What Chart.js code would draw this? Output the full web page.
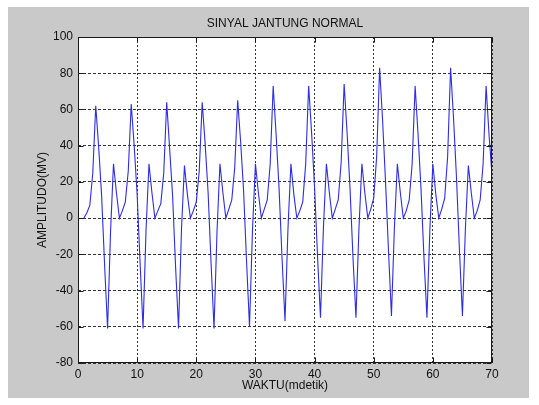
<!DOCTYPE html>
<html>
<head>
<meta charset="utf-8">
<script src="https://cdn.jsdelivr.net/npm/chart.js@4/dist/chart.umd.min.js"></script>
<style>
html, body { margin: 0; padding: 0; background: #fff; }
#wrap { width: 539px; height: 405px; }
</style>
</head>
<body>
<div id="wrap"><canvas id="ekg"></canvas></div>
<script>
'use strict';

// DATA
// =====
var judul = 'SINYAL JANTUNG NORMAL';
var labelX = 'WAKTU(mdetik)';
var labelY = 'AMPLITUDO(MV)';
var tickX = [0, 10, 20, 30, 40, 50, 60, 70];
var tickY = [-80, -60, -40, -20, 0, 20, 40, 60, 80, 100];
var waktuAwal = 1;   // sampel pertama (mdetik)
var langkah = 0.5;   // jarak antar sampel (mdetik)
var amplitudo = [
    0, 3, 7, 25, 62, 39, 12, -26, -61, -8, 30, 14,
    0, 4, 9, 26, 63, 40, 13, -25, -61, -7, 30, 14,
    0, 4, 8, 25, 64, 38, 12, -27, -61, -6, 29, 13,
    0, 4, 9, 26, 64, 41, 14, -25, -61, -8, 30, 14,
    0, 5, 10, 28, 65, 42, 15, -24, -60, -7, 30, 14,
    0, 5, 10, 30, 73, 46, 16, -22, -57, -6, 30, 13,
    0, 4, 9, 30, 73, 47, 17, -21, -55, -5, 30, 14,
    0, 5, 10, 31, 74, 47, 16, -22, -55, -6, 30, 14,
    0, 5, 11, 34, 83, 54, 20, -18, -54, -5, 30, 14,
    0, 4, 10, 30, 73, 46, 16, -22, -55, -6, 30, 13,
    0, 5, 11, 34, 83, 55, 22, -18, -54, -6, 29, 14,
    0, 4, 10, 30, 73, 46, 24
];

var titik = amplitudo.map(function (v, i) {
    return { x: waktuAwal + i * langkah, y: v };
});

var huruf = '"Liberation Sans", Arial, sans-serif';

// gray figure, white axes, box and inward ticks (matlab look)
var bingkai = {
    id: 'bingkai',
    beforeDraw: function (chart) {
        var ctx = chart.ctx, a = chart.chartArea;
        ctx.save();
        ctx.fillStyle = '#c9c9c9';
        ctx.fillRect(8, 7, 521, 391);
        ctx.fillStyle = '#fff';
        ctx.fillRect(a.left, a.top, a.right - a.left, a.bottom - a.top);
        ctx.restore();
    },
    afterDraw: function (chart) {
        var ctx = chart.ctx, a = chart.chartArea;
        var sx = chart.scales.x, sy = chart.scales.y;
        var L = Math.round(a.left) + 0.5, R = Math.round(a.right) - 0.5;
        var T = Math.round(a.top) + 0.5, B = Math.round(a.bottom) - 0.5;
        ctx.save();
        ctx.strokeStyle = '#1a1a1a';
        ctx.lineWidth = 1;
        ctx.strokeRect(L, T, R - L, B - T);
        ctx.beginPath();
        sx.ticks.forEach(function (t) {
            var p = Math.round(sx.getPixelForValue(t.value)) + 0.5;
            ctx.moveTo(p, B); ctx.lineTo(p, B - 5);
            ctx.moveTo(p, T); ctx.lineTo(p, T + 5);
        });
        sy.ticks.forEach(function (t) {
            var p = Math.round(sy.getPixelForValue(t.value)) + 0.5;
            ctx.moveTo(L, p); ctx.lineTo(L + 5, p);
            ctx.moveTo(R, p); ctx.lineTo(R - 5, p);
        });
        ctx.stroke();
        ctx.restore();
    }
};

var ctx = document.getElementById('ekg');
var chart = new Chart(ctx, {
    type: 'line',
    data: {
        datasets: [{
            data: titik,
            borderColor: 'rgb(45,45,225)',
            borderWidth: 1.1,
            pointRadius: 0,
            tension: 0,
            fill: false
        }]
    },
    options: {
        responsive: true,
        maintainAspectRatio: false,
        animation: false,
        layout: { padding: { left: 0, right: 47, top: 0, bottom: 0 } },
        plugins: {
            legend: { display: false },
            tooltip: { enabled: false },
            title: {
                display: true,
                fullSize: false,
                text: judul,
                color: '#111',
                font: { family: huruf, size: 12, weight: 'normal' },
                padding: { top: 16, bottom: 6.6 }
            }
        },
        scales: {
            x: {
                type: 'linear',
                min: tickX[0],
                max: tickX[tickX.length - 1],
                afterFit: function (s) { s.height = 42; },
                ticks: {
                    stepSize: tickX[1] - tickX[0],
                    color: '#111',
                    padding: 4,
                    maxRotation: 0,
                    font: { family: huruf, size: 12 }
                },
                grid: { color: '#333', lineWidth: 1, drawTicks: false },
                border: { display: false, dash: [2, 2] },
                title: {
                    display: true,
                    text: labelX,
                    color: '#111',
                    font: { family: huruf, size: 12 },
                    padding: { top: 0, bottom: 12 }
                }
            },
            y: {
                type: 'linear',
                min: tickY[0],
                max: tickY[tickY.length - 1],
                afterFit: function (s) { s.width = 78; },
                ticks: {
                    stepSize: tickY[1] - tickY[0],
                    color: '#111',
                    padding: 5,
                    font: { family: huruf, size: 12 }
                },
                grid: { color: '#333', lineWidth: 1, drawTicks: false },
                border: { display: false, dash: [3, 2] },
                title: {
                    display: true,
                    text: labelY,
                    color: '#111',
                    font: { family: huruf, size: 12 },
                    padding: { top: 35, bottom: 0 }
                }
            }
        }
    },
    plugins: [bingkai]
});
</script>
</body>
</html>
